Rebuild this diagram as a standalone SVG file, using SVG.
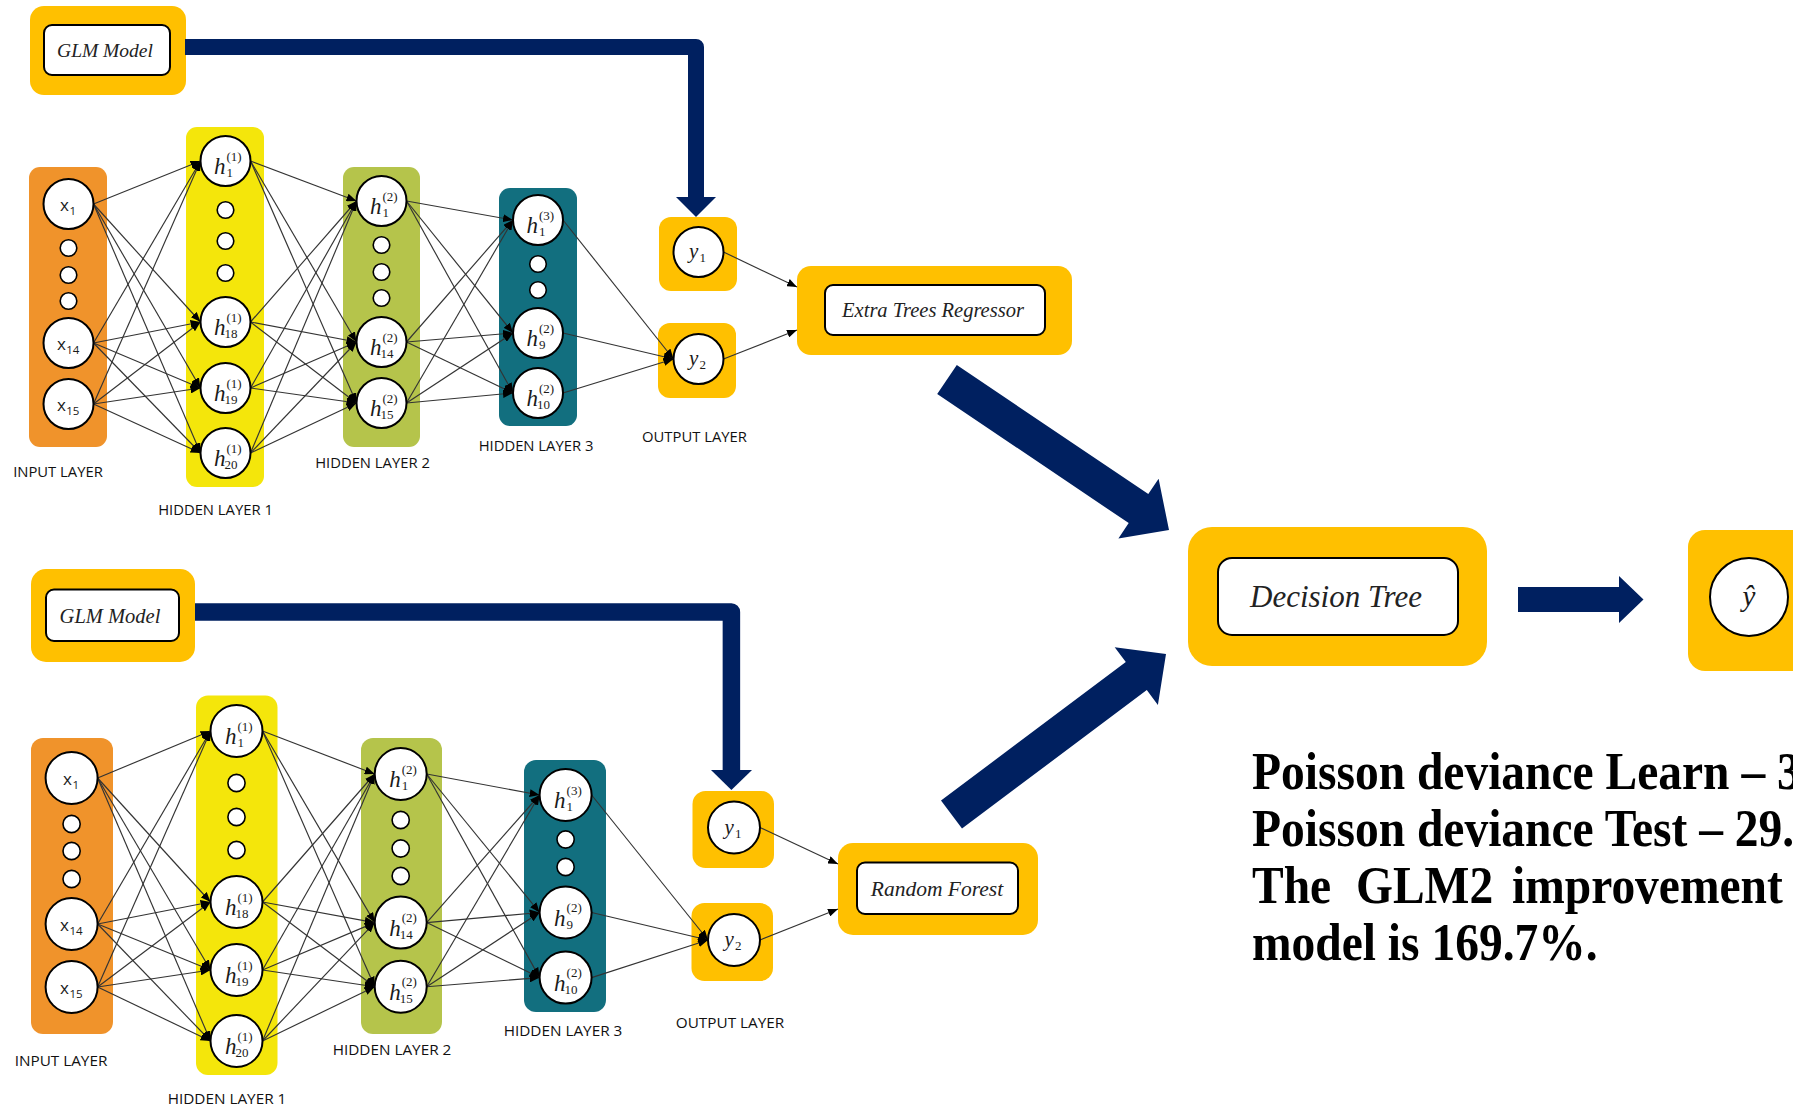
<svg xmlns="http://www.w3.org/2000/svg" width="1793" height="1107" viewBox="0 0 1793 1107">
<defs>
  <style>
    .box{fill:#FFC000}
    .inner{fill:#fff;stroke:#000;stroke-width:2}
    .node{fill:#fff;stroke:#000;stroke-width:2}
    .dot{fill:#fff;stroke:#000;stroke-width:1.6}
    .edge{stroke:#333;stroke-width:1.15;fill:none;marker-end:url(#ah)}
    .navy{fill:#002060}
    .bar{fill:none;stroke:#002060;stroke-linejoin:round}
    .mi{font-family:'Liberation Serif',serif;font-style:italic;fill:#1a1a1a}
    .h{font-size:23px}
    .s{font-size:13px;font-style:normal}
    .yv{font-size:21px}
    .xl{font-family:'Open Sans',sans-serif;font-size:17px;fill:#1a1a1a}
    .xs{font-size:11.5px}
    .lay{font-family:'Open Sans',sans-serif;font-size:14.8px;fill:#111;text-anchor:middle}
    .lay2{font-size:15.3px}
    .bt{font-family:'Liberation Serif',serif;font-style:italic;fill:#222;text-anchor:middle}
    .res{font-family:'Liberation Serif',serif;font-weight:bold;font-size:47.5px;fill:#000}
    .inp{fill:#F0932B}
    .hl1{fill:#F4E60B}
    .hl2{fill:#B5C44B}
    .hl3{fill:#126F7F}
  </style>
  <marker id="ah" viewBox="0 0 10 8" refX="10" refY="4" markerWidth="10" markerHeight="8" markerUnits="userSpaceOnUse" orient="auto">
    <path d="M0,0 L10,4 L0,8 z" fill="#000"/>
  </marker>
</defs>
<rect width="1793" height="1107" fill="#fff"/>

<!-- ===== upper network: layer backgrounds and boxes ===== -->
<g id="top-input-layer"><rect class="inp" x="29" y="167" width="78" height="280" rx="11"/><text class="lay" x="58" y="477">INPUT LAYER</text></g>
<g id="top-hidden-layer-1"><rect class="hl1" x="186" y="127" width="78" height="360" rx="11"/><text class="lay" x="215.5" y="515">HIDDEN LAYER 1</text></g>
<g id="top-hidden-layer-2"><rect class="hl2" x="343" y="167" width="77" height="280" rx="11"/><text class="lay" x="372.5" y="468">HIDDEN LAYER 2</text></g>
<g id="top-hidden-layer-3"><rect class="hl3" x="499" y="188" width="78" height="238" rx="11"/><text class="lay" x="536" y="451">HIDDEN LAYER 3</text></g>
<g id="top-output-layer"><rect class="box" x="659" y="217" width="78" height="74" rx="12"/><rect class="box" x="658" y="323" width="78" height="75" rx="12"/><text class="lay" x="694.5" y="442">OUTPUT LAYER</text></g>
<g id="top-glm"><rect class="box" x="30" y="6" width="156" height="89" rx="14"/><rect class="inner" x="44" y="25" width="126" height="50" rx="8"/><text class="bt" x="105" y="57" font-size="19.5">GLM Model</text></g>
<g id="extra-trees"><rect class="box" x="797" y="266" width="275" height="89" rx="14"/><rect class="inner" x="825" y="285" width="220" height="50" rx="8"/><text class="bt" x="933" y="317" font-size="20.5">Extra Trees Regressor</text></g>

<!-- ===== lower network: layer backgrounds and boxes ===== -->
<g id="bot-input-layer"><rect class="inp" x="31" y="738" width="82" height="296" rx="12"/><text class="lay lay2" x="61" y="1066">INPUT LAYER</text></g>
<g id="bot-hidden-layer-1"><rect class="hl1" x="196" y="695.5" width="81.5" height="379.5" rx="12"/><text class="lay lay2" x="227" y="1104">HIDDEN LAYER 1</text></g>
<g id="bot-hidden-layer-2"><rect class="hl2" x="361" y="738" width="81" height="296" rx="12"/><text class="lay lay2" x="392" y="1055">HIDDEN LAYER 2</text></g>
<g id="bot-hidden-layer-3"><rect class="hl3" x="524" y="760" width="82" height="252" rx="12"/><text class="lay lay2" x="563" y="1036">HIDDEN LAYER 3</text></g>
<g id="bot-output-layer"><rect class="box" x="692.5" y="791" width="81.5" height="77" rx="13"/><rect class="box" x="691.5" y="903" width="81.5" height="78" rx="13"/><text class="lay lay2" x="730" y="1028">OUTPUT LAYER</text></g>
<g id="bot-glm"><rect class="box" x="31" y="569" width="164" height="93" rx="15"/><rect class="inner" x="46" y="589.5" width="133" height="51.5" rx="8"/><text class="bt" x="110" y="622.5" font-size="20.5">GLM Model</text></g>
<g id="random-forest"><rect class="box" x="838" y="843" width="200" height="92" rx="15"/><rect class="inner" x="857" y="862.5" width="161" height="51.5" rx="8"/><text class="bt" x="937" y="896" font-size="21.5">Random Forest</text></g>

<!-- ===== ensemble stage ===== -->
<g id="decision-tree"><rect class="box" x="1188" y="527" width="299" height="139" rx="24"/><rect class="inner" x="1218" y="558" width="240" height="77" rx="14" stroke-width="2.5"/><text class="bt" x="1336" y="607" font-size="31">Decision Tree</text></g>
<g id="y-hat"><rect class="box" x="1688" y="530" width="130" height="141" rx="17"/><circle class="node" cx="1749" cy="597" r="39"/><text class="mi" x="1749" y="606" font-size="29" text-anchor="middle">ŷ</text></g>

<!-- ===== connectors ===== -->
<g id="connectors">
  <!-- upper network weights -->
  <line class="edge" x1="93.5" y1="204" x2="200.5" y2="161"/>
  <line class="edge" x1="93.5" y1="204" x2="200.5" y2="322"/>
  <line class="edge" x1="93.5" y1="204" x2="200.5" y2="388"/>
  <line class="edge" x1="93.5" y1="204" x2="200.5" y2="453"/>
  <line class="edge" x1="93.5" y1="343" x2="200.5" y2="161"/>
  <line class="edge" x1="93.5" y1="343" x2="200.5" y2="322"/>
  <line class="edge" x1="93.5" y1="343" x2="200.5" y2="388"/>
  <line class="edge" x1="93.5" y1="343" x2="200.5" y2="453"/>
  <line class="edge" x1="93.5" y1="404" x2="200.5" y2="161"/>
  <line class="edge" x1="93.5" y1="404" x2="200.5" y2="322"/>
  <line class="edge" x1="93.5" y1="404" x2="200.5" y2="388"/>
  <line class="edge" x1="93.5" y1="404" x2="200.5" y2="453"/>

  <line class="edge" x1="250.5" y1="161" x2="356.5" y2="201"/>
  <line class="edge" x1="250.5" y1="161" x2="356.5" y2="342"/>
  <line class="edge" x1="250.5" y1="161" x2="356.5" y2="403"/>
  <line class="edge" x1="250.5" y1="322" x2="356.5" y2="201"/>
  <line class="edge" x1="250.5" y1="322" x2="356.5" y2="342"/>
  <line class="edge" x1="250.5" y1="322" x2="356.5" y2="403"/>
  <line class="edge" x1="250.5" y1="388" x2="356.5" y2="201"/>
  <line class="edge" x1="250.5" y1="388" x2="356.5" y2="342"/>
  <line class="edge" x1="250.5" y1="388" x2="356.5" y2="403"/>
  <line class="edge" x1="250.5" y1="453" x2="356.5" y2="201"/>
  <line class="edge" x1="250.5" y1="453" x2="356.5" y2="342"/>
  <line class="edge" x1="250.5" y1="453" x2="356.5" y2="403"/>

  <line class="edge" x1="406.5" y1="201" x2="513" y2="220"/>
  <line class="edge" x1="406.5" y1="201" x2="513" y2="333"/>
  <line class="edge" x1="406.5" y1="201" x2="513" y2="393"/>
  <line class="edge" x1="406.5" y1="342" x2="513" y2="220"/>
  <line class="edge" x1="406.5" y1="342" x2="513" y2="333"/>
  <line class="edge" x1="406.5" y1="342" x2="513" y2="393"/>
  <line class="edge" x1="406.5" y1="403" x2="513" y2="220"/>
  <line class="edge" x1="406.5" y1="403" x2="513" y2="333"/>
  <line class="edge" x1="406.5" y1="403" x2="513" y2="393"/>

  <line class="edge" x1="563" y1="220" x2="673.5" y2="359"/>
  <line class="edge" x1="563" y1="333" x2="673.5" y2="359"/>
  <line class="edge" x1="563" y1="393" x2="673.5" y2="359"/>

  <line class="edge" x1="723.5" y1="252" x2="797" y2="287"/>
  <line class="edge" x1="723.5" y1="359" x2="797" y2="330"/>

  <!-- lower network weights -->
  <line class="edge" x1="97.6" y1="778" x2="210.5" y2="731"/>
  <line class="edge" x1="97.6" y1="778" x2="210.5" y2="902"/>
  <line class="edge" x1="97.6" y1="778" x2="210.5" y2="970"/>
  <line class="edge" x1="97.6" y1="778" x2="210.5" y2="1041"/>
  <line class="edge" x1="97.6" y1="924" x2="210.5" y2="731"/>
  <line class="edge" x1="97.6" y1="924" x2="210.5" y2="902"/>
  <line class="edge" x1="97.6" y1="924" x2="210.5" y2="970"/>
  <line class="edge" x1="97.6" y1="924" x2="210.5" y2="1041"/>
  <line class="edge" x1="97.6" y1="987" x2="210.5" y2="731"/>
  <line class="edge" x1="97.6" y1="987" x2="210.5" y2="902"/>
  <line class="edge" x1="97.6" y1="987" x2="210.5" y2="970"/>
  <line class="edge" x1="97.6" y1="987" x2="210.5" y2="1041"/>

  <line class="edge" x1="262.5" y1="731" x2="374.7" y2="774"/>
  <line class="edge" x1="262.5" y1="731" x2="374.7" y2="922.6"/>
  <line class="edge" x1="262.5" y1="731" x2="374.7" y2="986.7"/>
  <line class="edge" x1="262.5" y1="902" x2="374.7" y2="774"/>
  <line class="edge" x1="262.5" y1="902" x2="374.7" y2="922.6"/>
  <line class="edge" x1="262.5" y1="902" x2="374.7" y2="986.7"/>
  <line class="edge" x1="262.5" y1="970" x2="374.7" y2="774"/>
  <line class="edge" x1="262.5" y1="970" x2="374.7" y2="922.6"/>
  <line class="edge" x1="262.5" y1="970" x2="374.7" y2="986.7"/>
  <line class="edge" x1="262.5" y1="1041" x2="374.7" y2="774"/>
  <line class="edge" x1="262.5" y1="1041" x2="374.7" y2="922.6"/>
  <line class="edge" x1="262.5" y1="1041" x2="374.7" y2="986.7"/>

  <line class="edge" x1="426.7" y1="774" x2="539.6" y2="795"/>
  <line class="edge" x1="426.7" y1="774" x2="539.6" y2="912.5"/>
  <line class="edge" x1="426.7" y1="774" x2="539.6" y2="977.6"/>
  <line class="edge" x1="426.7" y1="922.6" x2="539.6" y2="795"/>
  <line class="edge" x1="426.7" y1="922.6" x2="539.6" y2="912.5"/>
  <line class="edge" x1="426.7" y1="922.6" x2="539.6" y2="977.6"/>
  <line class="edge" x1="426.7" y1="986.7" x2="539.6" y2="795"/>
  <line class="edge" x1="426.7" y1="986.7" x2="539.6" y2="912.5"/>
  <line class="edge" x1="426.7" y1="986.7" x2="539.6" y2="977.6"/>

  <line class="edge" x1="591.6" y1="795" x2="708" y2="940"/>
  <line class="edge" x1="591.6" y1="912.5" x2="708" y2="940"/>
  <line class="edge" x1="591.6" y1="977.6" x2="708" y2="940"/>

  <line class="edge" x1="760" y1="827.5" x2="838" y2="864"/>
  <line class="edge" x1="760" y1="940" x2="838" y2="909"/>

  <!-- GLM feeds into y1 -->
  <path class="bar" stroke-width="16" d="M185,47 H696 V198"/>
  <polygon class="navy" points="676,197 716,197 696,217"/>
  <path class="bar" stroke-width="17.5" d="M195,612 H731.4 V771"/>
  <polygon class="navy" points="711,770 752,770 731.4,790"/>

  <!-- stage arrows into the decision tree and out to the prediction -->
  <polygon class="navy" points="956.8,365 1148.3,494.1 1158.6,478.8 1169,530 1118.4,538.4 1128.7,523.1 937.2,394"/>
  <polygon class="navy" points="941,800.5 1125.8,662.1 1114.7,647.3 1166,654 1157.9,704.9 1146.8,690.1 962,828.5"/>
  <polygon class="navy" points="1518,587 1619,587 1619,576 1643.5,599.5 1619,623 1619,612 1518,612"/>
</g>

<!-- ===== upper network neurons ===== -->
<g id="top-x1"><circle class="node" cx="68.5" cy="204" r="25"/><text class="xl"><tspan x="60" y="211">x</tspan><tspan class="xs" x="69.5" y="215">1</tspan></text></g>
<g id="top-input-dots"><circle class="dot" cx="68.5" cy="248" r="8.3"/><circle class="dot" cx="68.5" cy="275" r="8.3"/><circle class="dot" cx="68.5" cy="301" r="8.3"/></g>
<g id="top-x14"><circle class="node" cx="68.5" cy="343" r="25"/><text class="xl"><tspan x="57" y="350">x</tspan><tspan class="xs" x="66.3" y="354">14</tspan></text></g>
<g id="top-x15"><circle class="node" cx="68.5" cy="404" r="25"/><text class="xl"><tspan x="57" y="411">x</tspan><tspan class="xs" x="66.3" y="415">15</tspan></text></g>

<g id="top-h1-1"><circle class="node" cx="225.5" cy="161" r="25"/><text class="mi"><tspan class="h" x="214" y="174">h</tspan><tspan class="s" x="226.5" y="160.5">(1)</tspan><tspan class="s" x="226.5" y="177">1</tspan></text></g>
<g id="top-hidden1-dots"><circle class="dot" cx="225.5" cy="210" r="8.3"/><circle class="dot" cx="225.5" cy="241" r="8.3"/><circle class="dot" cx="225.5" cy="273" r="8.3"/></g>
<g id="top-h1-18"><circle class="node" cx="225.5" cy="322" r="25"/><text class="mi"><tspan class="h" x="214" y="335">h</tspan><tspan class="s" x="226.5" y="321.5">(1)</tspan><tspan class="s" x="224.5" y="338">18</tspan></text></g>
<g id="top-h1-19"><circle class="node" cx="225.5" cy="388" r="25"/><text class="mi"><tspan class="h" x="214" y="401">h</tspan><tspan class="s" x="226.5" y="387.5">(1)</tspan><tspan class="s" x="224.5" y="404">19</tspan></text></g>
<g id="top-h1-20"><circle class="node" cx="225.5" cy="453" r="25"/><text class="mi"><tspan class="h" x="214" y="466">h</tspan><tspan class="s" x="226.5" y="452.5">(1)</tspan><tspan class="s" x="224.5" y="469">20</tspan></text></g>

<g id="top-h2-1"><circle class="node" cx="381.5" cy="201" r="25"/><text class="mi"><tspan class="h" x="370" y="214">h</tspan><tspan class="s" x="382.5" y="200.5">(2)</tspan><tspan class="s" x="382.5" y="217">1</tspan></text></g>
<g id="top-hidden2-dots"><circle class="dot" cx="381.5" cy="245" r="8.3"/><circle class="dot" cx="381.5" cy="272" r="8.3"/><circle class="dot" cx="381.5" cy="298" r="8.3"/></g>
<g id="top-h2-14"><circle class="node" cx="381.5" cy="342" r="25"/><text class="mi"><tspan class="h" x="370" y="355">h</tspan><tspan class="s" x="382.5" y="341.5">(2)</tspan><tspan class="s" x="380.5" y="358">14</tspan></text></g>
<g id="top-h2-15"><circle class="node" cx="381.5" cy="403" r="25"/><text class="mi"><tspan class="h" x="370" y="416">h</tspan><tspan class="s" x="382.5" y="402.5">(2)</tspan><tspan class="s" x="380.5" y="419">15</tspan></text></g>

<g id="top-h3-1"><circle class="node" cx="538" cy="220" r="25"/><text class="mi"><tspan class="h" x="526.5" y="233">h</tspan><tspan class="s" x="539" y="219.5">(3)</tspan><tspan class="s" x="539" y="236">1</tspan></text></g>
<g id="top-hidden3-dots"><circle class="dot" cx="538" cy="264" r="8.3"/><circle class="dot" cx="538" cy="290" r="8.3"/></g>
<g id="top-h3-9"><circle class="node" cx="538" cy="333" r="25"/><text class="mi"><tspan class="h" x="526.5" y="346">h</tspan><tspan class="s" x="539" y="332.5">(2)</tspan><tspan class="s" x="539" y="349">9</tspan></text></g>
<g id="top-h3-10"><circle class="node" cx="538" cy="393" r="25"/><text class="mi"><tspan class="h" x="526.5" y="406">h</tspan><tspan class="s" x="539" y="392.5">(2)</tspan><tspan class="s" x="537" y="409">10</tspan></text></g>

<g id="top-y1"><circle class="node" cx="698.5" cy="252" r="25"/><text class="mi"><tspan class="yv" x="689" y="258">y</tspan><tspan class="s" x="699.5" y="262">1</tspan></text></g>
<g id="top-y2"><circle class="node" cx="698.5" cy="359" r="25"/><text class="mi"><tspan class="yv" x="689" y="365">y</tspan><tspan class="s" x="699.5" y="369">2</tspan></text></g>

<!-- ===== lower network neurons ===== -->
<g id="bot-x1"><circle class="node" cx="71.6" cy="778" r="26"/><text class="xl"><tspan x="63.1" y="785">x</tspan><tspan class="xs" x="72.6" y="789">1</tspan></text></g>
<g id="bot-input-dots"><circle class="dot" cx="71.6" cy="824" r="8.6"/><circle class="dot" cx="71.6" cy="851" r="8.6"/><circle class="dot" cx="71.6" cy="879" r="8.6"/></g>
<g id="bot-x14"><circle class="node" cx="71.6" cy="924" r="26"/><text class="xl"><tspan x="60.1" y="931">x</tspan><tspan class="xs" x="69.4" y="935">14</tspan></text></g>
<g id="bot-x15"><circle class="node" cx="71.6" cy="987" r="26"/><text class="xl"><tspan x="60.1" y="994">x</tspan><tspan class="xs" x="69.4" y="998">15</tspan></text></g>

<g id="bot-h1-1"><circle class="node" cx="236.5" cy="731" r="26"/><text class="mi"><tspan class="h" x="225" y="744">h</tspan><tspan class="s" x="237.5" y="730.5">(1)</tspan><tspan class="s" x="237.5" y="747">1</tspan></text></g>
<g id="bot-hidden1-dots"><circle class="dot" cx="236.5" cy="783" r="8.6"/><circle class="dot" cx="236.5" cy="817" r="8.6"/><circle class="dot" cx="236.5" cy="850" r="8.6"/></g>
<g id="bot-h1-18"><circle class="node" cx="236.5" cy="902" r="26"/><text class="mi"><tspan class="h" x="225" y="915">h</tspan><tspan class="s" x="237.5" y="901.5">(1)</tspan><tspan class="s" x="235.5" y="918">18</tspan></text></g>
<g id="bot-h1-19"><circle class="node" cx="236.5" cy="970" r="26"/><text class="mi"><tspan class="h" x="225" y="983">h</tspan><tspan class="s" x="237.5" y="969.5">(1)</tspan><tspan class="s" x="235.5" y="986">19</tspan></text></g>
<g id="bot-h1-20"><circle class="node" cx="236.5" cy="1041" r="26"/><text class="mi"><tspan class="h" x="225" y="1054">h</tspan><tspan class="s" x="237.5" y="1040.5">(1)</tspan><tspan class="s" x="235.5" y="1057">20</tspan></text></g>

<g id="bot-h2-1"><circle class="node" cx="400.7" cy="774" r="26"/><text class="mi"><tspan class="h" x="389.2" y="787">h</tspan><tspan class="s" x="401.7" y="773.5">(2)</tspan><tspan class="s" x="401.7" y="790">1</tspan></text></g>
<g id="bot-hidden2-dots"><circle class="dot" cx="400.7" cy="820" r="8.6"/><circle class="dot" cx="400.7" cy="848.5" r="8.6"/><circle class="dot" cx="400.7" cy="876" r="8.6"/></g>
<g id="bot-h2-14"><circle class="node" cx="400.7" cy="922.6" r="26"/><text class="mi"><tspan class="h" x="389.2" y="935.6">h</tspan><tspan class="s" x="401.7" y="922.1">(2)</tspan><tspan class="s" x="399.7" y="938.6">14</tspan></text></g>
<g id="bot-h2-15"><circle class="node" cx="400.7" cy="986.7" r="26"/><text class="mi"><tspan class="h" x="389.2" y="999.7">h</tspan><tspan class="s" x="401.7" y="986.2">(2)</tspan><tspan class="s" x="399.7" y="1002.7">15</tspan></text></g>

<g id="bot-h3-1"><circle class="node" cx="565.6" cy="795" r="26"/><text class="mi"><tspan class="h" x="554.1" y="808">h</tspan><tspan class="s" x="566.6" y="794.5">(3)</tspan><tspan class="s" x="566.6" y="811">1</tspan></text></g>
<g id="bot-hidden3-dots"><circle class="dot" cx="565.6" cy="839.5" r="8.6"/><circle class="dot" cx="565.6" cy="867" r="8.6"/></g>
<g id="bot-h3-9"><circle class="node" cx="565.6" cy="912.5" r="26"/><text class="mi"><tspan class="h" x="554.1" y="925.5">h</tspan><tspan class="s" x="566.6" y="912">(2)</tspan><tspan class="s" x="566.6" y="928.5">9</tspan></text></g>
<g id="bot-h3-10"><circle class="node" cx="565.6" cy="977.6" r="26"/><text class="mi"><tspan class="h" x="554.1" y="990.6">h</tspan><tspan class="s" x="566.6" y="977.1">(2)</tspan><tspan class="s" x="564.6" y="993.6">10</tspan></text></g>

<g id="bot-y1"><circle class="node" cx="734" cy="827.5" r="26"/><text class="mi"><tspan class="yv" x="724.5" y="833.5">y</tspan><tspan class="s" x="735" y="837.5">1</tspan></text></g>
<g id="bot-y2"><circle class="node" cx="734" cy="940" r="26"/><text class="mi"><tspan class="yv" x="724.5" y="946">y</tspan><tspan class="s" x="735" y="950">2</tspan></text></g>

<!-- ===== results ===== -->
<g id="results">
  <text class="res" x="1252" y="789" transform="matrix(1 0 0 1.09 0 -71.01)">Poisson deviance Learn – 3</text>
  <text class="res" x="1252" y="846" transform="matrix(1 0 0 1.09 0 -76.14)">Poisson deviance Test – 29.</text>
  <text class="res" y="903" transform="matrix(1 0 0 1.09 0 -81.27)"><tspan x="1252">The</tspan><tspan x="1356">GLM2</tspan><tspan x="1512">improvement</tspan></text>
  <text class="res" x="1252" y="960" transform="matrix(1 0 0 1.09 0 -86.4)">model is 169.7%.</text>
</g>
</svg>
